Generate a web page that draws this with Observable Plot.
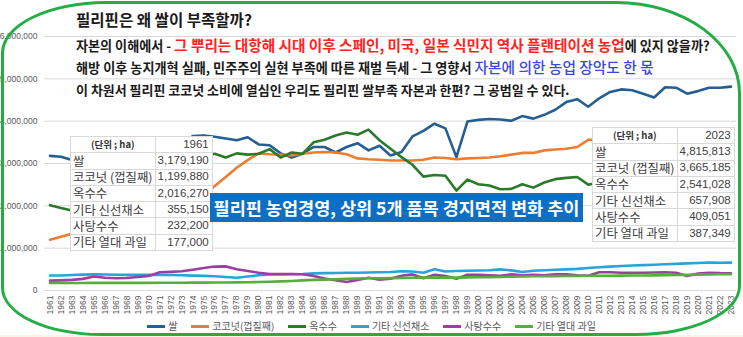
<!DOCTYPE html>
<html><head><meta charset="utf-8">
<script src="https://cdn.jsdelivr.net/npm/d3@7"></script>
<script src="https://cdn.jsdelivr.net/npm/@observablehq/plot@0.6"></script>
<style>
body{margin:0;background:#fff;}
#wrap{position:relative;width:743px;height:337px;overflow:hidden;background:#fff;font-family:"Noto Sans CJK KR","Noto Sans",sans-serif;}
#wrap svg.plot{position:absolute;left:0;top:0;}
.row{position:absolute;left:76px;white-space:nowrap;font-weight:700;color:#1a1a1a;line-height:1;}
.red{color:#ff2323;}
.blue{color:#3a48e0;}
table.tb{position:absolute;border-collapse:collapse;background:#fff;table-layout:fixed;color:#404040;font-size:12.4px;}
table.tb td{border:1px solid #d9d9d9;height:15.3px;padding:0 2px 0 2px;line-height:1;white-space:nowrap;overflow:hidden;}
table.tb td.v{text-align:right;font-family:"Liberation Sans",Arial,sans-serif;font-size:11.5px;padding-right:3px;}
table.tb td.h{text-align:center;font-weight:700;color:#333;font-size:9.5px;}
#banner{position:absolute;left:210px;top:193px;width:373px;height:29px;background:#0d6fc4;color:#fff;font-weight:700;white-space:nowrap;display:flex;align-items:center;justify-content:center;line-height:1;}
#legend{position:absolute;left:0;width:743px;top:321px;display:flex;justify-content:center;gap:14px;font-size:10px;color:#595959;line-height:1;}
#legend .it{display:flex;align-items:center;gap:3px;}
#legend .sw{width:18px;height:3px;}
#frame{position:absolute;left:1px;top:1px;width:734px;height:329px;border:3px solid #25ad45;border-radius:105px 125px 105px 100px / 52px 92px 50px 48px;pointer-events:none;}
#strip{position:absolute;left:0;top:335px;width:743px;height:2px;background:#f6f6e6;}
</style></head><body>
<div id="wrap"></div>
<script>
const years = [1961,1962,1963,1964,1965,1966,1967,1968,1969,1970,1971,1972,1973,1974,1975,1976,1977,1978,1979,1980,1981,1982,1983,1984,1985,1986,1987,1988,1989,1990,1991,1992,1993,1994,1995,1996,1997,1998,1999,2000,2001,2002,2003,2004,2005,2006,2007,2008,2009,2010,2011,2012,2013,2014,2015,2016,2017,2018,2019,2020,2021,2022,2023];

const seriesNames = ["쌀","코코넛(껍질째)","옥수수","기타 신선채소","사탕수수","기타 열대 과일"];
const seriesColors = ["#255e91","#ed7d31","#2b7a2b","#27a4dd","#9c3fa1","#58ae3c"];

const rice = [3179190,3160000,3080000,3110000,3150000,3100000,3220000,3330000,3220000,3110000,3120000,3250000,3440000,3650000,3660000,3630000,3590000,3550000,3620000,3450000,3430000,3240000,3140000,3230000,3390000,3390000,3260000,3390000,3480000,3310000,3420000,3190000,3270000,3640000,3770000,3940000,3830000,3150000,3990000,4030000,4050000,4040000,4010000,4120000,4060000,4150000,4270000,4450000,4520000,4340000,4540000,4690000,4750000,4730000,4650000,4560000,4800000,4790000,4650000,4710000,4790000,4790000,4815813];
const coconut = [1199880,1270000,1340000,1410000,1480000,1550000,1620000,1700000,1780000,1860000,1950000,2040000,2130000,2200000,2250000,2470000,2680000,2900000,3080000,3240000,3220000,3210000,3190000,3230000,3260000,3270000,3260000,3220000,3120000,3100000,3090000,3070000,3070000,3070000,3090000,3140000,3130000,3100000,3120000,3130000,3140000,3170000,3210000,3250000,3250000,3310000,3330000,3350000,3390000,3560000,3560000,3570000,3550000,3500000,3520000,3560000,3610000,3650000,3650000,3630000,3640000,3600000,3665185];
const corn = [2016270,1950000,1890000,1920000,1980000,2050000,2120000,2220000,2330000,2450000,2580000,2720000,2900000,3080000,3200000,3230000,3140000,3240000,3210000,3230000,3340000,3140000,3260000,3230000,3500000,3560000,3660000,3730000,3680000,3800000,3550000,3350000,3150000,2970000,2690000,2730000,2710000,2360000,2620000,2510000,2480000,2390000,2400000,2510000,2430000,2550000,2630000,2660000,2680000,2500000,2550000,2590000,2560000,2610000,2560000,2480000,2580000,2500000,2540000,2550000,2550000,2530000,2541028];
const vegetables = [355150,355000,365000,375000,380000,378000,372000,370000,368000,368000,368000,367000,362000,352000,345000,335000,320000,300000,330000,360000,378000,382000,385000,390000,405000,410000,412000,418000,420000,425000,430000,438000,455000,450000,420000,500000,450000,460000,468000,472000,480000,500000,475000,438000,468000,480000,490000,500000,510000,530000,550000,565000,578000,590000,600000,610000,620000,630000,640000,650000,662000,655000,657908];
const sugarcane = [232200,240000,250000,275000,330000,300000,290000,295000,320000,345000,430000,440000,455000,490000,530000,565000,570000,500000,460000,420000,390000,390000,390000,385000,345000,285000,240000,200000,250000,300000,255000,280000,350000,380000,290000,370000,340000,280000,370000,370000,360000,350000,380000,360000,370000,360000,380000,385000,360000,350000,430000,430000,420000,420000,420000,425000,430000,420000,340000,400000,420000,410000,409051];
const tropicalFruit = [177000,177000,178000,178000,179000,179000,180000,180000,181000,181000,182000,183000,184000,185000,186000,188000,190000,192000,195000,200000,208000,215000,225000,240000,250000,258000,265000,275000,285000,288000,290000,293000,297000,300000,303000,305000,308000,305000,310000,312000,315000,320000,325000,330000,335000,338000,340000,342000,345000,347000,348000,350000,352000,354000,356000,358000,362000,366000,370000,374000,378000,383000,387349];

const yTicks = [0,1000000,2000000,3000000,4000000,5000000,6000000];

const tableLabels = ["쌀","코코넛 (껍질째)","옥수수","기타 신선채소","사탕수수","기타 열대 과일"];
const unitLabel = "(단위 ; ha)";
const firstYear = 1961, lastYear = 2023;

const allSeries = [rice, coconut, corn, vegetables, sugarcane, tropicalFruit];
const data = allSeries.flatMap((vals, s) => vals.map((v, i) => ({series: seriesNames[s], year: years[i], value: v})));

const wrap = document.getElementById("wrap");
const font = "'Liberation Sans', Arial, sans-serif";

const chart = Plot.plot({
  width: 743, height: 337,
  marginLeft: 44, marginRight: 7, marginTop: 36, marginBottom: 47,
  style: {fontFamily: font, fontSize: "8.5px", color: "#595959", background: "transparent", overflow: "visible"},
  x: {type: "point", domain: years, padding: 0.5, label: null},
  y: {domain: [0, 6000000], label: null},
  color: {domain: seriesNames, range: seriesColors},
  marks: [
    Plot.gridY(yTicks, {stroke: "#d9d9d9", strokeOpacity: 1, strokeWidth: 1}),
    Plot.axisY(yTicks, {tickSize: 0, tickPadding: 7, tickFormat: d3.format(","), fontSize: 8.5, fill: "#595959", label: null}),
    Plot.axisX({tickRotate: -90, tickSize: 0, tickPadding: 5, tickFormat: d => String(d), fontSize: 8.5, fill: "#595959", label: null}),
    Plot.line(data, {x: "year", y: "value", z: "series", stroke: "series", strokeWidth: 2.6, strokeLinejoin: "round", strokeLinecap: "round"})
  ]
});
chart.classList.add("plot");
wrap.appendChild(chart);

// text rows
function addRow(html, cy, target, size){
  const d = document.createElement("div");
  d.className = "row"; d.innerHTML = html; d.style.fontSize = size + "px";
  wrap.appendChild(d);
  const w = d.getBoundingClientRect().width;
  const k = target / w;
  d.style.fontSize = (size * k) + "px";
  const h = d.getBoundingClientRect().height;
  d.style.top = (cy - h / 2) + "px";
}
addRow("필리핀은 왜 쌀이 부족할까?", 20, 176, 13);
addRow("자본의 이해에서 - <span class='red' style='font-size:1.12em'>그 뿌리는 대항해 시대 이후 스페인, 미국, 일본 식민지 역사 플랜테이션 농업</span>에 있지 않을까?", 45, 634, 13);
addRow("해방 이후 농지개혁 실패, 민주주의 실현 부족에 따른 재벌 득세 - 그 영향서 <span class='blue' style='font-size:1.12em;font-weight:500'>자본에 의한 농업 장악도 한 몫</span>", 67, 578, 13);
addRow("이 차원서 필리핀 코코넛 소비에 열심인 우리도 필리핀 쌀부족 자본과 한편? 그 공범일 수 있다.", 89, 494, 13);

function addTable(left, top, yr, idx){
  const t = document.createElement("table");
  t.className = "tb";
  t.style.left = left + "px"; t.style.top = top + "px";
  let html = "<colgroup><col style='width:73px'><col style='width:55px'></colgroup>";
  html += `<tr><td class='h'>${unitLabel}</td><td class='v'>${yr}</td></tr>`;
  tableLabels.forEach((lab, s) => {
    html += `<tr><td>${lab}</td><td class='v'>${d3.format(",")(allSeries[s][idx])}</td></tr>`;
  });
  t.innerHTML = html;
  wrap.appendChild(t);
}
addTable(70, 136, firstYear, years.indexOf(firstYear));
addTable(592, 127, lastYear, years.indexOf(lastYear));

// banner
const b = document.createElement("div");
b.id = "banner";
const bs = document.createElement("span");
bs.textContent = "필리핀 농업경영, 상위 5개 품목 경지면적 변화 추이";
bs.style.fontSize = "17px";
b.appendChild(bs); wrap.appendChild(b);
bs.style.fontSize = (17 * 366 / bs.getBoundingClientRect().width) + "px";

// legend
const lg = document.createElement("div");
lg.id = "legend";
seriesNames.forEach((n, i) => {
  const it = document.createElement("div"); it.className = "it";
  it.innerHTML = `<span class='sw' style='background:${seriesColors[i]}'></span><span>${n}</span>`;
  lg.appendChild(it);
});
wrap.appendChild(lg);

const strip = document.createElement("div"); strip.id = "strip"; wrap.appendChild(strip);
const fr = document.createElement("div"); fr.id = "frame"; wrap.appendChild(fr);
</script>
</body></html>
